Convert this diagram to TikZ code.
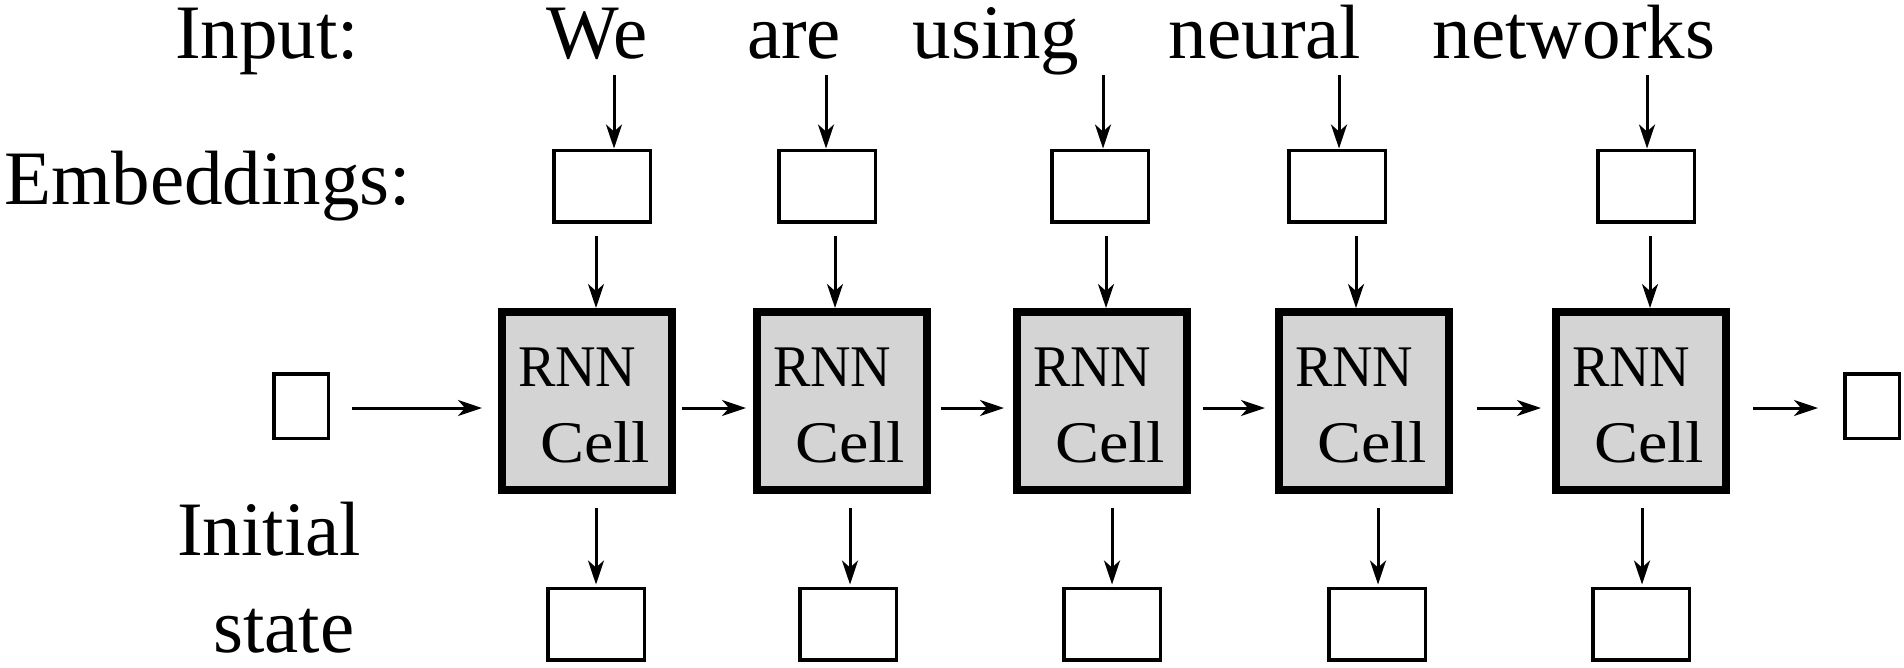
\documentclass[tikz,border=0pt]{standalone}
\usepackage{fontspec}
\setmainfont{Liberation Serif}
\usetikzlibrary{arrows.meta}
\definecolor{cellgray}{RGB}{212,212,212}
\begin{document}
\begin{tikzpicture}[x=1pt,y=-1pt,
  lbl/.style={font=\fontsize{77}{90}\selectfont, inner sep=0pt, anchor=base},
  embbox/.style={draw, line width=3.5pt, minimum width=96.5pt, minimum height=71.5pt, inner sep=0pt},
  smallbox/.style={draw, line width=3.5pt, minimum width=54.5pt, minimum height=64.5pt, inner sep=0pt},
  cellbox/.style={draw, fill=cellgray, line width=8pt, minimum width=170pt, minimum height=178pt, inner sep=0pt,
    font=\fontsize{59}{76}\selectfont, text width=138pt, align=left},
  arr/.style={line width=3pt, -{Stealth[length=24pt, width=16pt, inset=7pt]}}
]
\useasboundingbox (0,0) rectangle (1904,667);

% row labels
\node[lbl] (linput) at (267,58) {Input:};
\node[lbl] (lemb) at (208,204) {Embeddings:};
\node[lbl] (linit) at (269,555) {Initial};
\node[lbl] (lstate) at (284,652) {state};

\foreach \i/\w/\wx/\tx/\ex/\ax/\cx/\ox/\bx in {
  1/We/597/614/602/596/587/596/596,
  2/are/794/826/827/835/842/850/848,
  3/using/996/1103/1100/1106/1102/1112/1112,
  4/neural/1265/1339/1337/1356/1364/1378/1377,
  5/networks/1574/1647/1646/1650/1641/1642/1641}{
  \node[lbl] (w\i) at (\wx,58) {\w};
  \node[embbox] (e\i) at (\ex,186) {};
  \node[cellbox] (c\i) at (\cx,401) {\rule{0pt}{48pt}\scalebox{0.95}[1]{RNN}\\\hspace*{22pt}\scalebox{1.12}[1]{Cell}};
  \node[embbox] (o\i) at (\bx,624) {};
  \coordinate (t\i) at (\tx,75);
  \coordinate (a\i) at (\ax,236);
  \coordinate (d\i) at (\ox,508);
  \draw[arr] (t\i) -- (t\i |- e\i.north);
  \draw[arr] (a\i) -- (a\i |- c\i.north);
  \draw[arr] (d\i) -- ([yshift=2pt]d\i |- o\i.north);
}

% initial and final state boxes
\node[smallbox] (ib) at (301,406) {};
\node[smallbox] (fb) at (1872,406) {};

% horizontal arrows
\draw[arr, shorten <=22pt, shorten >=16pt] ([yshift=-2pt]ib.east) -- ([yshift=-7pt]c1.west);
\draw[arr, shorten <=6pt, shorten >=7pt] ([yshift=-7pt]c1.east) -- ([yshift=-7pt]c2.west);
\draw[arr, shorten <=10pt, shorten >=9pt] ([yshift=-7pt]c2.east) -- ([yshift=-7pt]c3.west);
\draw[arr, shorten <=12pt, shorten >=10pt] ([yshift=-7pt]c3.east) -- ([yshift=-7pt]c4.west);
\draw[arr, shorten <=24pt, shorten >=11pt] ([yshift=-7pt]c4.east) -- ([yshift=-7pt]c5.west);
\draw[arr, shorten <=23pt, shorten >=25pt] ([yshift=-7pt]c5.east) -- ([yshift=-2pt]fb.west);
\end{tikzpicture}
\end{document}
